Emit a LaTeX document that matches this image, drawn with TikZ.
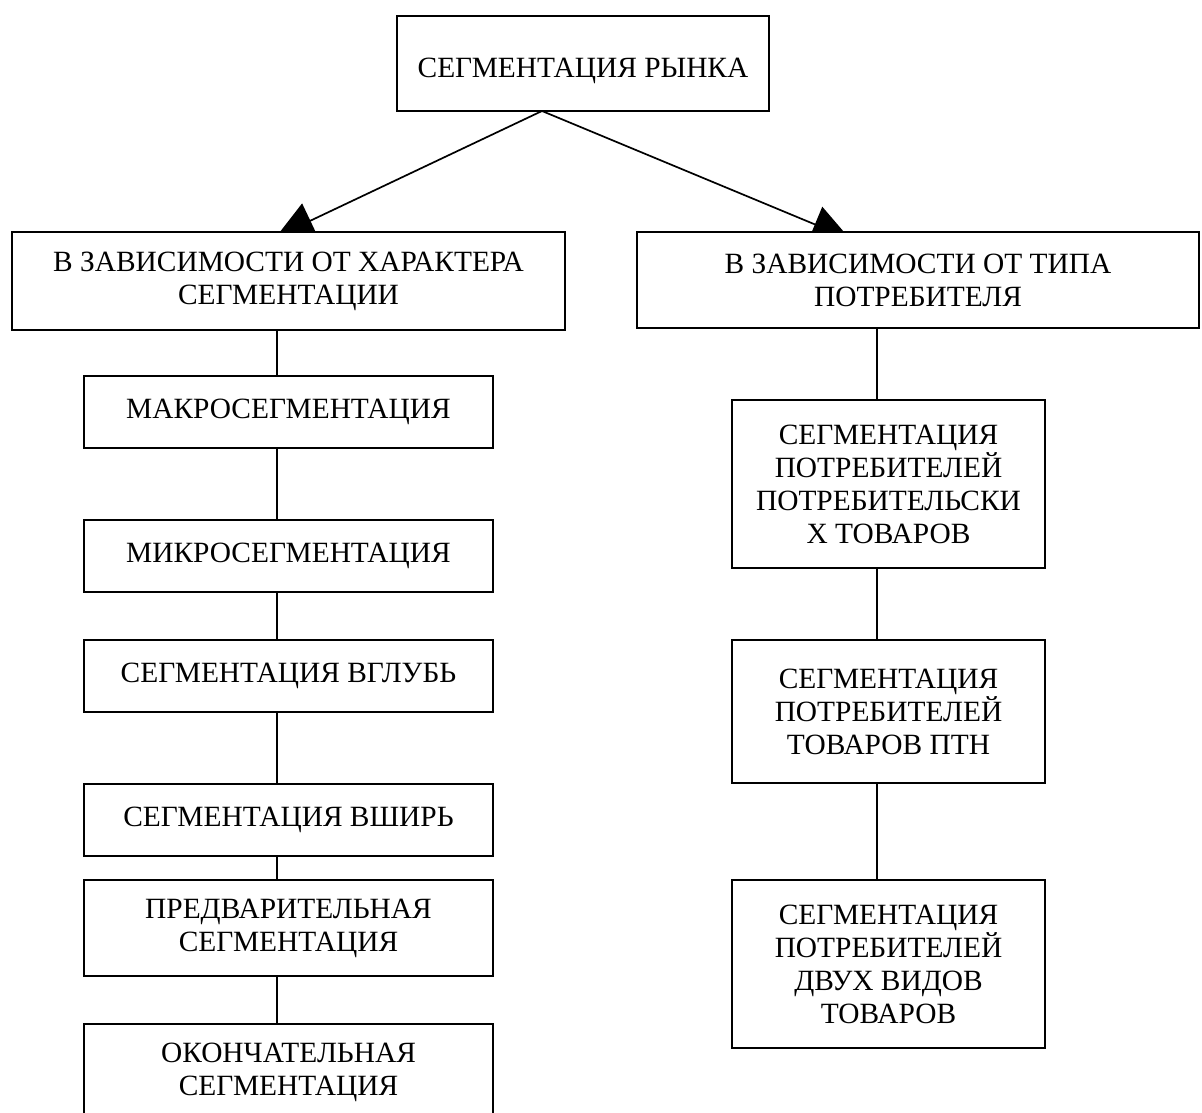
\documentclass[tikz,border=0pt]{standalone}
\usepackage{fontspec}
\setmainfont{Liberation Serif}
\usetikzlibrary{arrows.meta,backgrounds}
\begin{document}
\begin{tikzpicture}[x=1pt,y=-1pt,
  box/.style={draw=black,fill=white,line width=1.7pt,inner sep=0pt,align=center,
    font=\fontsize{29.4}{33}\selectfont,text=black},
  link/.style={line width=1.7pt},
  arr/.style={line width=1.7pt,-{Triangle[length=38pt,width=38pt]}}]
\useasboundingbox (0,0) rectangle (1202,1113);
\clip (0,0) rectangle (1202,1113);

% top
\node[box,minimum width=372pt,minimum height=95pt] (top) at (583,63.5) {\raisebox{-7pt}[\height][\depth]{СЕГМЕНТАЦИЯ РЫНКА}};
% level 2
\node[box,minimum width=553pt,minimum height=98pt] (lbox) at (288.5,281) {В ЗАВИСИМОСТИ ОТ ХАРАКТЕРА\\СЕГМЕНТАЦИИ};
\node[box,minimum width=562pt,minimum height=96pt] (rbox) at (918,280) {В ЗАВИСИМОСТИ ОТ ТИПА\\ПОТРЕБИТЕЛЯ};
% left column
\node[box,minimum width=409pt,minimum height=72pt] (macro) at (288.5,412) {МАКРОСЕГМЕНТАЦИЯ};
\node[box,minimum width=409pt,minimum height=72pt] (micro) at (288.5,556) {МИКРОСЕГМЕНТАЦИЯ};
\node[box,minimum width=409pt,minimum height=72pt] (deep) at (288.5,676) {СЕГМЕНТАЦИЯ ВГЛУБЬ};
\node[box,minimum width=409pt,minimum height=72pt] (wide) at (288.5,820) {СЕГМЕНТАЦИЯ ВШИРЬ};
\node[box,minimum width=409pt,minimum height=96pt] (prelim) at (288.5,928) {ПРЕДВАРИТЕЛЬНАЯ\\СЕГМЕНТАЦИЯ};
\node[box,minimum width=409pt,minimum height=96pt] (final) at (288.5,1072) {ОКОНЧАТЕЛЬНАЯ\\СЕГМЕНТАЦИЯ};
% right column
\node[box,minimum width=313pt,minimum height=168pt] (cons) at (888.5,484) {СЕГМЕНТАЦИЯ\\ПОТРЕБИТЕЛЕЙ\\ПОТРЕБИТЕЛЬСКИ\\Х ТОВАРОВ};
\node[box,minimum width=313pt,minimum height=143pt] (ptn) at (888.5,711.5) {СЕГМЕНТАЦИЯ\\ПОТРЕБИТЕЛЕЙ\\ТОВАРОВ ПТН};
\node[box,minimum width=313pt,minimum height=168pt] (two) at (888.5,964) {СЕГМЕНТАЦИЯ\\ПОТРЕБИТЕЛЕЙ\\ДВУХ ВИДОВ\\ТОВАРОВ};

\coordinate (apex) at (542,111);
\coordinate (tipL) at (276,237);
\coordinate (tipR) at (850,239);
\coordinate (xL) at (277,0);
\coordinate (xR) at (877,0);

\begin{scope}[on background layer]
  \fill[white] (0,0) rectangle (1202,1113);
  \draw[arr] (apex) -- (tipL);
  \draw[arr] (apex) -- (tipR);
\end{scope}

\draw[link] (lbox.south -| xL) -- (macro.north -| xL);
\draw[link] (macro.south -| xL) -- (micro.north -| xL);
\draw[link] (micro.south -| xL) -- (deep.north -| xL);
\draw[link] (deep.south -| xL) -- (wide.north -| xL);
\draw[link] (wide.south -| xL) -- (prelim.north -| xL);
\draw[link] (prelim.south -| xL) -- (final.north -| xL);

\draw[link] (rbox.south -| xR) -- (cons.north -| xR);
\draw[link] (cons.south -| xR) -- (ptn.north -| xR);
\draw[link] (ptn.south -| xR) -- (two.north -| xR);
\end{tikzpicture}
\end{document}
